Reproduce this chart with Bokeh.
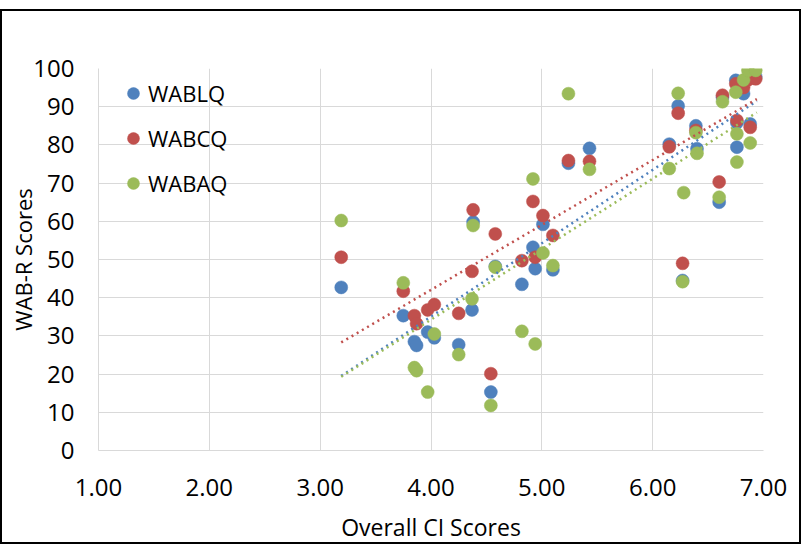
import numpy as np
from bokeh.plotting import figure
from bokeh.models import (ColumnDataSource, FixedTicker, NumeralTickFormatter,
                          Legend, LegendItem, Range1d)
from bokeh.embed import file_html
from bokeh.resources import INLINE

# ---- data ----
ci_scores = [3.19, 3.75, 3.85, 3.87, 3.97, 4.03, 4.25, 4.37, 4.38, 4.54, 4.58,
             4.82, 4.92, 4.94, 5.01, 5.10, 5.24, 5.43, 6.15, 6.23, 6.27, 6.28,
             6.39, 6.40, 6.60, 6.63, 6.75, 6.82, 6.86, 6.93, 6.76, 6.76, 6.88]
wablq = [42.7, 35.3, 28.5, 27.5, 31.0, 29.5, 27.7, 36.8, 59.8, 15.3, 48.2,
         43.5, 53.2, 47.6, 59.2, 47.3, 75.2, 79.1, 80.2, 90.2, 44.5, None,
         85.0, 79.0, 65.0, 92.5, 96.9, 93.4, 97.5, 97.8, 85.8, 79.4, 85.5]
wabcq = [50.6, 41.7, 35.3, 33.2, 36.8, 38.2, 35.9, 46.9, 63.0, 20.1, 56.7,
         49.7, 65.2, 50.6, 61.5, 56.3, 75.9, 75.7, 79.5, 88.3, 49.0, None,
         83.8, None, 70.3, 93.0, 96.0, 95.0, 97.0, 97.3, 86.4, None, 84.6]
wabaq = [60.2, 43.9, 21.7, 20.9, 15.3, 30.5, 25.1, 39.7, 58.9, 11.8, 48.0,
         31.2, 71.1, 27.9, 51.7, 48.4, 93.4, 73.6, 73.8, 93.5, 44.2, 67.5,
         83.2, 77.8, 66.3, 91.3, 93.8, 97.0, 99.5, 99.5, 82.9, 75.5, 80.5]

# linear trend lines (end points)
trend_x = [3.19, 6.94]
trend_lq = [19.5, 91.5]
trend_cq = [28.3, 92.0]
trend_aq = [19.3, 88.5]

series_names = ["WABLQ", "WABCQ", "WABAQ"]
series_colors = ["#4F81BD", "#C0504D", "#9BBB59"]
x_ticks = [1, 2, 3, 4, 5, 6, 7]
y_ticks = [0, 10, 20, 30, 40, 50, 60, 70, 80, 90, 100]

FONT = "Open Sans"

p = figure(width=801, height=535, x_range=Range1d(1, 7), y_range=Range1d(0, 100),
           output_backend="svg", toolbar_location=None,
           min_border_left=96, min_border_right=40, min_border_top=57,
           min_border_bottom=96)
p.styles = {"border": "2px solid black", "margin-top": "9px"}
p.outline_line_color = None
p.background_fill_color = "white"
p.border_fill_color = "white"

for ax in (p.xaxis[0], p.yaxis[0]):
    ax.major_tick_line_color = None
    ax.minor_tick_line_color = None
    ax.major_tick_out = 0
    ax.axis_line_color = "#d9d9d9"
    ax.major_label_text_font = FONT
    ax.major_label_text_font_size = "24px"
    ax.major_label_text_color = "#000000"
    ax.axis_label_text_font = FONT
    ax.axis_label_text_font_style = "normal"
    ax.axis_label_text_color = "#000000"

p.xaxis.ticker = FixedTicker(ticks=x_ticks)
p.xaxis.formatter = NumeralTickFormatter(format="0.00")
p.yaxis.ticker = FixedTicker(ticks=y_ticks)
p.xaxis.major_label_standoff = 28
p.yaxis.major_label_standoff = 24

p.xaxis.axis_label = "Overall CI Scores"
p.xaxis.axis_label_text_font_size = "23px"
p.xaxis.axis_label_standoff = 12

p.yaxis.axis_label = "WAB-R Scores"
p.yaxis.axis_label_text_font_size = "22px"
p.yaxis.axis_label_standoff = -8

p.xgrid.grid_line_color = "#d9d9d9"
p.ygrid.grid_line_color = "#d9d9d9"

src = ColumnDataSource(dict(
    x=np.array(ci_scores, dtype=float),
    lq=np.array(wablq, dtype=float),
    cq=np.array(wabcq, dtype=float),
    aq=np.array(wabaq, dtype=float),
))

renderers = []
for col, name, color in zip(["lq", "cq", "aq"], series_names, series_colors):
    r = p.scatter("x", col, source=src, size=13, fill_color=color,
                  line_color=color, line_width=0.5)
    renderers.append(r)

for ys, color in zip([trend_lq, trend_cq, trend_aq], series_colors):
    p.line(trend_x, ys, line_color=color, line_width=2.5, line_dash="2 4")

legend = Legend(items=[LegendItem(label=n, renderers=[r]) for n, r in zip(series_names, renderers)],
                location=(20, 252), glyph_width=30, glyph_height=30,
                label_height=30, spacing=15, padding=0, margin=0,
                label_standoff=0, border_line_color=None,
                background_fill_alpha=0,
                label_text_font=FONT, label_text_font_size="22px",
                label_text_color="#000000")
p.add_layout(legend)

open("out.html", "w").write(file_html(p, INLINE))
